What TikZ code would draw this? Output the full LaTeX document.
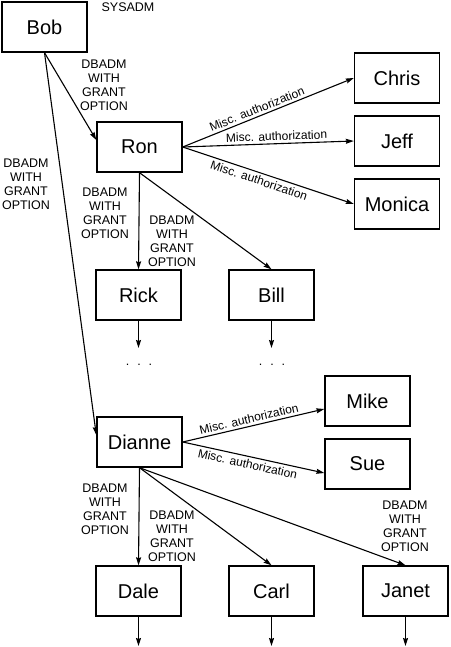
\documentclass[tikz,border=0pt]{standalone}
\usepackage{fontspec}
\setmainfont{Liberation Sans}
\usetikzlibrary{arrows.meta}
\begin{document}
\begin{tikzpicture}[x=1pt,y=-1pt,
  person/.style={draw, line width=1.4pt, minimum width=85pt, minimum height=50pt, inner sep=0pt, font=\fontsize{20}{23}\selectfont},
  grant/.style={-{Stealth[length=8pt,width=5pt,inset=1pt]}, line width=1.1pt},
  lbl/.style={align=center, font=\fontsize{12.5}{14}\selectfont, inner sep=0pt},
  misc/.style={font=\fontsize{12}{13}\selectfont, sloped, inner sep=2.5pt},
  dots/.style={font=\fontsize{12.5}{14}\selectfont, inner sep=0pt}
]
\useasboundingbox (0,0) rectangle (450,647);

% people
\node[person] (bob) at (44.5,27) {Bob};
\node[person] (ron) at (139.5,147) {Ron};
\node[person] (chris) at (397,78) {Chris};
\node[person] (jeff) at (397,141) {Jeff};
\node[person] (monica) at (397,204) {Monica};
\node[person] (rick) at (138.5,295) {Rick};
\node[person] (bill) at (271.5,295) {Bill};
\node[person] (mike) at (367.5,401) {Mike};
\node[person] (sue) at (367.5,464) {Sue};
\node[person] (dianne) at (139.5,442) {Dianne};
\node[person] (dale) at (138.5,591) {Dale};
\node[person] (carl) at (271.5,591) {Carl};
\node[person] (janet) at (405.5,591) {Janet};

% free ends
\coordinate (rickend) at (138.5,348);
\coordinate (billend) at (271.5,348);
\coordinate (daleend) at (138.5,646);
\coordinate (carlend) at (271.5,646);
\coordinate (janetend) at (405.5,646);

% texts
\node[lbl] (sysadm) at (128,7) {SYSADM};
\node[lbl] (l1) at (104,85) {DBADM\\WITH\\GRANT\\OPTION};
\node[lbl] (l2) at (26,184) {DBADM\\WITH\\GRANT\\OPTION};
\node[lbl] (l3) at (105,213.5) {DBADM\\WITH\\GRANT\\OPTION};
\node[lbl] (l4) at (172,241) {DBADM\\WITH\\GRANT\\OPTION};
\node[lbl] (l5) at (105,509.5) {DBADM\\WITH\\GRANT\\OPTION};
\node[lbl] (l6) at (172,536) {DBADM\\WITH\\GRANT\\OPTION};
\node[lbl] (l7) at (405,526) {DBADM\\WITH\\GRANT\\OPTION};
\node[dots] (d1) at (139,365) {.\hspace{8pt}.\hspace{8pt}.};
\node[dots] (d2) at (272,365) {.\hspace{8pt}.\hspace{8pt}.};

% connectors
\draw[grant] (bob.south) -- ([yshift=7pt]ron.west);
\draw[grant] (bob.south) -- ([yshift=7pt]dianne.west);
\draw[grant] (ron.east) -- node[misc, above, pos=0.45] (m1) {Misc. authorization} (chris.west);
\draw[grant] (ron.east) -- node[misc, above, pos=0.55] (m2) {Misc. authorization} (jeff.west);
\draw[grant] (ron.east) -- node[misc, below, pos=0.46] (m3) {Misc. authorization} (monica.west);
\draw[grant] (ron.south) -- (rick.north);
\draw[grant] (ron.south) -- (bill.north);
\draw[grant] (rick.south) -- (rickend);
\draw[grant] (bill.south) -- (billend);
\draw[grant] (dianne.east) -- node[misc, above, pos=0.48] (m4) {Misc. authorization} ([yshift=-8pt]mike.west);
\draw[grant] (dianne.east) -- node[misc, below, pos=0.47] (m5) {Misc. authorization} ([yshift=-9pt]sue.west);
\draw[grant] (dianne.south) -- (dale.north);
\draw[grant] (dianne.south) -- (carl.north);
\draw[grant] (dianne.south) -- (janet.north);
\draw[grant] (dale.south) -- (daleend);
\draw[grant] (carl.south) -- (carlend);
\draw[grant] (janet.south) -- (janetend);
\end{tikzpicture}
\end{document}
